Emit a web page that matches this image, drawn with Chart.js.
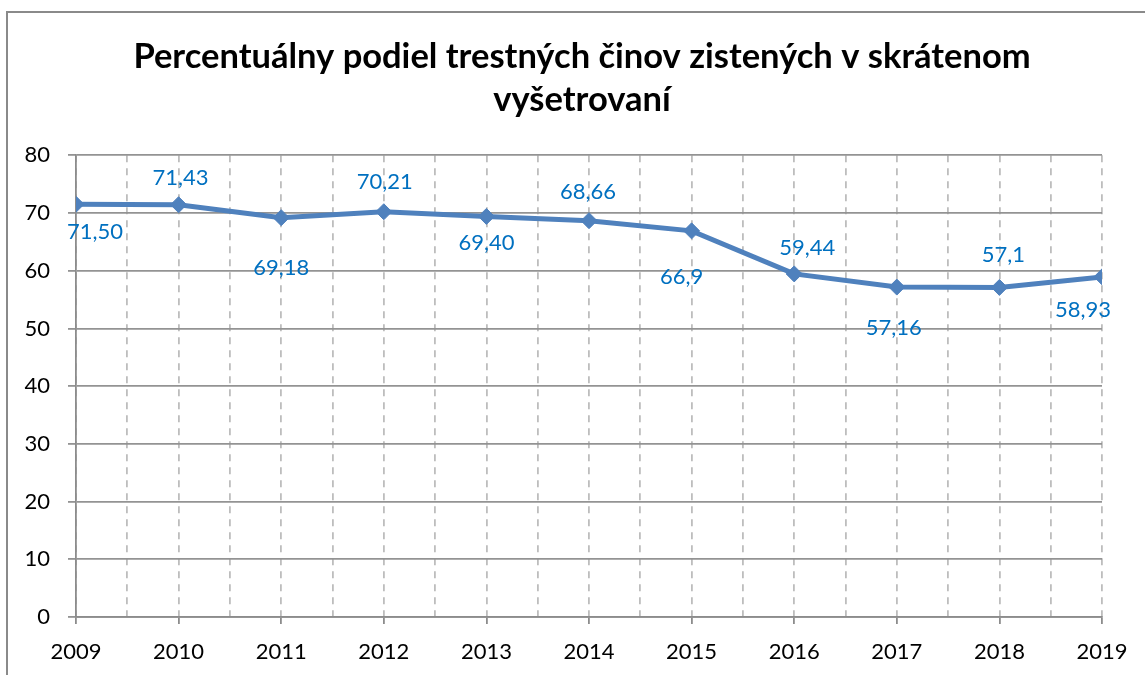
<!DOCTYPE html>
<html>
<head>
<meta charset="utf-8">
<script src="https://cdn.jsdelivr.net/npm/chart.js@4/dist/chart.umd.min.js"></script>
<style>
  html, body { margin: 0; padding: 0; background: #ffffff; }
  #c { display: block; }
</style>
</head>
<body>
<canvas id="c" width="1145" height="675"></canvas>
<script>
// ---- data ----
const years = [2009, 2010, 2011, 2012, 2013, 2014, 2015, 2016, 2017, 2018, 2019];
const values = [71.50, 71.43, 69.18, 70.21, 69.40, 68.66, 66.9, 59.44, 57.16, 57.1, 58.93];
const valueLabels = ['71,50', '71,43', '69,18', '70,21', '69,40', '68,66', '66,9', '59,44', '57,16', '57,1', '58,93'];
const yTicks = [0, 10, 20, 30, 40, 50, 60, 70, 80];
const titleLines = ['Percentuálny podiel trestných činov zistených v skrátenom', 'vyšetrovaní'];

const FONT = 'Lato, "Open Sans", "DejaVu Sans", sans-serif';

const frame = {
  id: 'frame',
  beforeDraw(chart) {
    const ctx = chart.ctx;
    ctx.save();
    ctx.fillStyle = '#ffffff';
    ctx.fillRect(0, 0, chart.width, chart.height);
    ctx.strokeStyle = '#8a8a8a';
    ctx.lineWidth = 2;
    ctx.strokeRect(7, 12, chart.width + 20, chart.height + 20);
    ctx.restore();
  }
};

const pointLabels = {
  id: 'pointLabels',
  afterDatasetsDraw(chart, args, opts) {
    const ctx = chart.ctx;
    const meta = chart.getDatasetMeta(0);
    ctx.save();
    ctx.font = opts.font;
    ctx.fillStyle = opts.color;
    ctx.textAlign = 'center';
    ctx.textBaseline = 'middle';
    meta.data.forEach((pt, i) => {
      const off = opts.offsets[i];
      ctx.fillText(valueLabels[i], pt.x + off[0], pt.y + off[1]);
    });
    ctx.restore();
  }
};

new Chart(document.getElementById('c'), {
  type: 'line',
  data: {
    datasets: [{
      data: years.map((y, i) => ({ x: y, y: values[i] })),
      yAxisID: 'y',
      borderColor: '#4F81BD',
      backgroundColor: '#4F81BD',
      borderWidth: 5,
      pointStyle: 'rectRot',
      pointRadius: 8,
      pointBorderWidth: 1,
      pointBackgroundColor: '#4F81BD',
      pointBorderColor: '#4F81BD',
      tension: 0,
      fill: false
    }]
  },
  options: {
    responsive: false,
    animation: false,
    devicePixelRatio: 1,
    layout: { padding: { left: 19, right: 0, top: 0, bottom: 0 } },
    plugins: {
      legend: { display: false },
      tooltip: { enabled: false },
      title: {
        display: true,
        text: titleLines,
        color: '#000000',
        font: { family: FONT, size: 34.5, weight: 'bold', lineHeight: 1.25 },
        padding: { top: 35, bottom: 34 }
      },
      pointLabels: {
        font: '22px ' + FONT,
        color: '#0070C0',
        offsets: [[19, 28], [2, -27], [0, 50], [1, -30], [0, 26], [-1, -29], [-10, 46], [13, -26], [-3, 41], [4, -33], [-19, 33]]
      }
    },
    scales: {
      x: {
        type: 'linear',
        min: years[0],
        max: years[years.length - 1],
        afterFit(scale) { scale.height = 58; },
        afterBuildTicks(scale) {
          const t = [];
          for (let i = 0; i < years.length; i++) {
            t.push({ value: years[i] });
            if (i < years.length - 1) t.push({ value: years[i] + 0.5 });
          }
          scale.ticks = t;
        },
        ticks: {
          autoSkip: false,
          maxRotation: 0,
          padding: 15,
          color: '#000000',
          font: { family: FONT, size: 22 },
          callback: (v) => (years.includes(v) ? String(v) : '')
        },
        grid: {
          color: '#bdbdbd',
          lineWidth: 1.8,
          tickLength: 7,
          tickColor: (c) => (c.tick && years.includes(c.tick.value) ? '#8c8c8c' : 'rgba(0,0,0,0)'),
          tickBorderDash: [],
          tickWidth: 1.8
        },
        border: { display: true, color: '#8c8c8c', width: 1.8, dash: [7, 6] }
      },
      y: {
        position: 'left',
        min: 0,
        max: 80,
        afterFit(scale) { scale.width = 57; },
        afterBuildTicks(scale) { scale.ticks = yTicks.map(v => ({ value: v })); },
        ticks: {
          padding: 18,
          color: '#000000',
          font: { family: FONT, size: 22 }
        },
        grid: {
          color: '#939393',
          lineWidth: 1.8,
          tickLength: 8,
          tickColor: '#939393'
        },
        border: { display: true, color: '#8c8c8c', width: 1.8 }
      },
      yRight: {
        type: 'linear',
        position: 'right',
        min: 0,
        max: 1,
        afterFit(scale) { scale.width = 43; },
        ticks: { display: false },
        grid: { display: false, drawTicks: false },
        border: { display: false }
      }
    }
  },
  plugins: [frame, pointLabels]
});
</script>
</body>
</html>
